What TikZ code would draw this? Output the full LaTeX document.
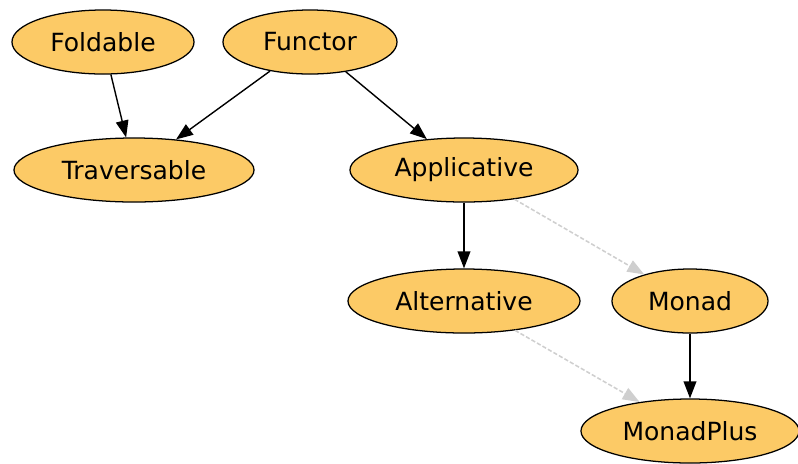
\documentclass[tikz,border=0pt]{standalone}
\usepackage{fontspec}
\setmainfont{DejaVu Sans}
\usepackage{xcolor}
\usetikzlibrary{arrows.meta,shapes.geometric}
\definecolor{classfill}{HTML}{FCCA66}
\definecolor{implgray}{HTML}{CFCFCF}
\tikzset{
  classbox/.style={
    ellipse, draw=black, fill=classfill, line width=0.9pt,
    minimum width=#1, minimum height=1.6cm,
    inner sep=0pt, font=\fontsize{17.8}{20}\selectfont
  },
  classbox/.default=4.5cm,
  superarrow/.style={
    -{Triangle[length=12pt, width=9pt]}, line width=1pt, color=black
  },
  impliedarrow/.style={
    -{Triangle[length=12pt, width=9pt]}, line width=1.1pt, color=implgray,
    dash pattern=on 3pt off 1.5pt
  },
}
\begin{document}
\begin{tikzpicture}[x=0.025cm, y=-0.025cm]
  \useasboundingbox (0,0) rectangle (798,463);

  % top row
  \node[classbox=4.55cm] (foldable) at (103,42) {Foldable};
  \node[classbox=4.35cm] (functor) at (310,42) {Functor};

  % middle row
  \node[classbox=6.0cm] (traversable) at (134,170) {Traversable};
  \node[classbox=5.7cm] (applicative) at (464,170) {Applicative};

  % lower rows
  \node[classbox=5.8cm] (alternative) at (464,301) {Alternative};
  \node[classbox=3.9cm] (monad) at (690,301) {Monad};
  \node[classbox=5.45cm] (monadplus) at (690,431) {MonadPlus};

  % superclass edges
  \draw[superarrow] (foldable) -- (traversable);
  \draw[superarrow] (functor) -- (traversable);
  \draw[superarrow] (functor) -- (applicative);
  \draw[superarrow] (applicative) -- (alternative);
  \draw[superarrow] (monad) -- (monadplus);

  % implied edges
  \draw[impliedarrow] (applicative) -- (monad);
  \draw[impliedarrow] (alternative) -- (monadplus);
\end{tikzpicture}
\end{document}
